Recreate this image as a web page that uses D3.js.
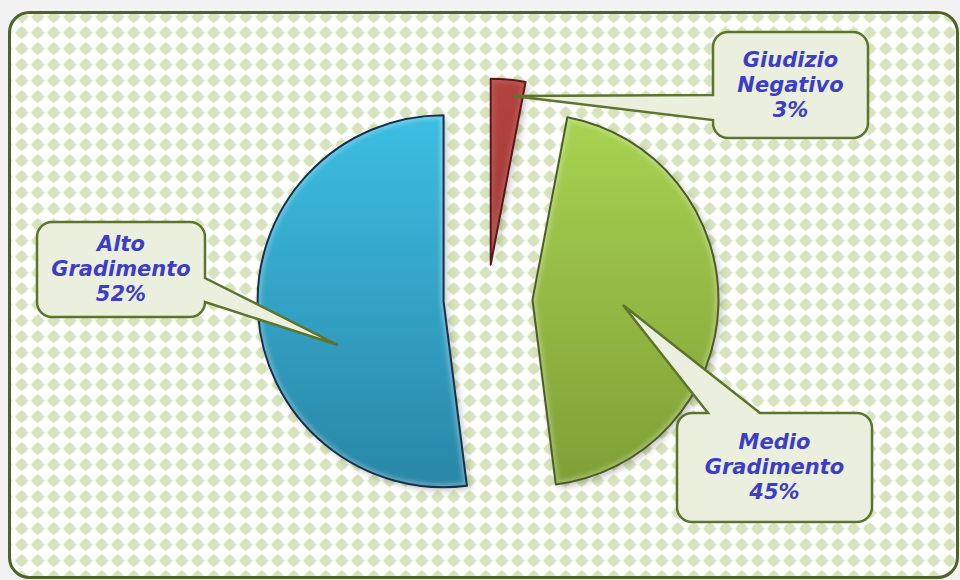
<!DOCTYPE html>
<html>
<head>
<meta charset="utf-8">
<script src="https://cdn.jsdelivr.net/npm/d3@7"></script>
<style>
  html, body { margin: 0; padding: 0; background: #f2f2f2; }
  svg { display: block; }
</style>
</head>
<body>
<svg id="chart" width="960" height="580"></svg>
<script>
// Survey result: share of judgements
const categories = ["Giudizio Negativo", "Medio Gradimento", "Alto Gradimento"];
const values = [3, 45, 52];
const labelLines = [["Giudizio", "Negativo"], ["Medio", "Gradimento"], ["Alto", "Gradimento"]];

// Drawing settings
const W = 960, H = 580;
const cx = 487.5, cy = 298.5, R = 186;
const explode = [34, 45, 44];
const sliceTop = ["#b3433f", "#a9d352", "#3cbee3"];
const sliceBottom = ["#93302d", "#7f9f35", "#2a86a6"];
const sliceStroke = ["#5a1816", "#4a5e24", "#18304a"];
const glowOpacity = [0.12, 0.28, 0.28];
// callout boxes: [x, y, w, h], side the pointer leaves from, pointer base range, tip (angle in deg, fraction of radius)
const callouts = [
  { box: [713, 32, 155, 106], side: "left",  base: [95, 120],  tip: [7.5, 0.915] },
  { box: [677, 413, 195, 109], side: "top",  base: [708, 760], tip: [93.2, 0.487] },
  { box: [37, 222, 168, 95],  side: "right", base: [278, 302], tip: [247.5, 0.615] }
];

const svg = d3.select("#chart");
const defs = svg.append("defs");

// dotted background pattern
const pat = defs.append("pattern")
  .attr("id", "dots").attr("patternUnits", "userSpaceOnUse")
  .attr("width", 16).attr("height", 16)
  .attr("x", 5.7).attr("y", 0.7);
pat.append("rect").attr("width", 16).attr("height", 16).attr("fill", "#ffffff");
const star = "M0,-7 C1,-5.2 2.2,-4.8 3.8,-3.8 C4.8,-2.2 5.2,-1 7,0 C5.2,1 4.8,2.2 3.8,3.8 C2.2,4.8 1,5.2 0,7 C-1,5.2 -2.2,4.8 -3.8,3.8 C-4.8,2.2 -5.2,1 -7,0 C-5.2,-1 -4.8,-2.2 -3.8,-3.8 C-2.2,-4.8 -1,-5.2 0,-7 Z";
[[0, 0], [16, 0], [0, 16], [16, 16]].forEach(([x, y]) => {
  pat.append("path").attr("d", star).attr("transform", `translate(${x},${y})`).attr("fill", "#d7e3bc");
});

// shadow and edge glow
const sh = defs.append("filter").attr("id", "shadow")
  .attr("x", "-20%").attr("y", "-20%").attr("width", "140%").attr("height", "140%");
sh.append("feDropShadow").attr("dx", 3).attr("dy", 3).attr("stdDeviation", 3.5)
  .attr("flood-color", "#000").attr("flood-opacity", 0.25);
defs.append("filter").attr("id", "soft")
  .append("feGaussianBlur").attr("stdDeviation", 2);

// frame
svg.append("rect")
  .attr("x", 9.5).attr("y", 12.5).attr("width", 948).attr("height", 565)
  .attr("rx", 20).attr("ry", 20)
  .attr("fill", "url(#dots)")
  .attr("stroke", "#4f6228").attr("stroke-width", 3);

// pie
const pie = d3.pie().sort(null).value(d => d)(values);
const arc = d3.arc().innerRadius(0).outerRadius(R);

const centers = pie.map((d, i) => {
  const mid = (d.startAngle + d.endAngle) / 2;
  return [cx + Math.sin(mid) * explode[i], cy - Math.cos(mid) * explode[i]];
});

pie.forEach((d, i) => {
  // gradient in the slice's own (translated) coordinates
  const grad = defs.append("linearGradient").attr("id", "g" + i)
    .attr("gradientUnits", "userSpaceOnUse")
    .attr("x1", 0).attr("x2", 0)
    .attr("y1", -R).attr("y2", R);
  grad.append("stop").attr("offset", "0%").attr("stop-color", sliceTop[i]);
  grad.append("stop").attr("offset", "100%").attr("stop-color", sliceBottom[i]);
  defs.append("clipPath").attr("id", "c" + i)
    .append("path").attr("d", arc(d));
});

const slices = svg.append("g").selectAll("g").data(pie).join("g")
  .attr("transform", (d, i) => `translate(${centers[i][0]},${centers[i][1]})`);

slices.append("path")
  .attr("d", arc)
  .attr("fill", (d, i) => `url(#g${i})`)
  .attr("filter", "url(#shadow)");

// bevel highlight along the edges
slices.append("g")
  .attr("clip-path", (d, i) => `url(#c${i})`)
  .append("path")
  .attr("d", arc)
  .attr("fill", "none")
  .attr("stroke", "#ffffff").attr("stroke-opacity", (d, i) => glowOpacity[i])
  .attr("stroke-width", 7)
  .attr("filter", "url(#soft)");

slices.append("path")
  .attr("d", arc)
  .attr("fill", "none")
  .attr("stroke", (d, i) => sliceStroke[i])
  .attr("stroke-width", 2)
  .attr("stroke-linejoin", "round");

// callouts
function calloutPath(c, tip) {
  const [x, y, w, h] = c.box, r = 15;
  const [b1, b2] = c.base;
  const p = d3.path();
  p.moveTo(x + r, y);
  if (c.side === "top") { p.lineTo(b1, y); p.lineTo(tip[0], tip[1]); p.lineTo(b2, y); }
  p.lineTo(x + w - r, y);
  p.arcTo(x + w, y, x + w, y + r, r);
  if (c.side === "right") { p.lineTo(x + w, b1); p.lineTo(tip[0], tip[1]); p.lineTo(x + w, b2); }
  p.lineTo(x + w, y + h - r);
  p.arcTo(x + w, y + h, x + w - r, y + h, r);
  p.lineTo(x + r, y + h);
  p.arcTo(x, y + h, x, y + h - r, r);
  if (c.side === "left") { p.lineTo(x, b2); p.lineTo(tip[0], tip[1]); p.lineTo(x, b1); }
  p.lineTo(x, y + r);
  p.arcTo(x, y, x + r, y, r);
  p.closePath();
  return p.toString();
}

const labels = svg.append("g").selectAll("g").data(pie).join("g");

labels.append("path")
  .attr("d", (d, i) => {
    const c = callouts[i];
    const a = c.tip[0] * Math.PI / 180;
    const tip = [centers[i][0] + Math.sin(a) * R * c.tip[1], centers[i][1] - Math.cos(a) * R * c.tip[1]];
    return calloutPath(c, tip);
  })
  .attr("fill", "#ebf0de")
  .attr("stroke", "#5c742c")
  .attr("stroke-width", 2.5)
  .attr("stroke-linejoin", "miter");

const fmt = d3.format(".0f");
labels.append("text")
  .attr("font-family", "'DejaVu Sans', Verdana, sans-serif")
  .attr("font-size", 21)
  .attr("font-weight", "bold")
  .attr("font-style", "italic")
  .attr("fill", "#3d3dc6")
  .attr("text-anchor", "middle")
  .each(function (d, i) {
    const [x, y, w, h] = callouts[i].box;
    const mx = x + w / 2, my = y + h / 2 + 6.5;
    const lines = [...labelLines[i], fmt(d.value) + "%"];
    lines.forEach((t, k) => {
      d3.select(this).append("tspan").attr("x", mx).attr("y", my + (k - 1) * 25).text(t);
    });
  });
</script>
</body>
</html>
